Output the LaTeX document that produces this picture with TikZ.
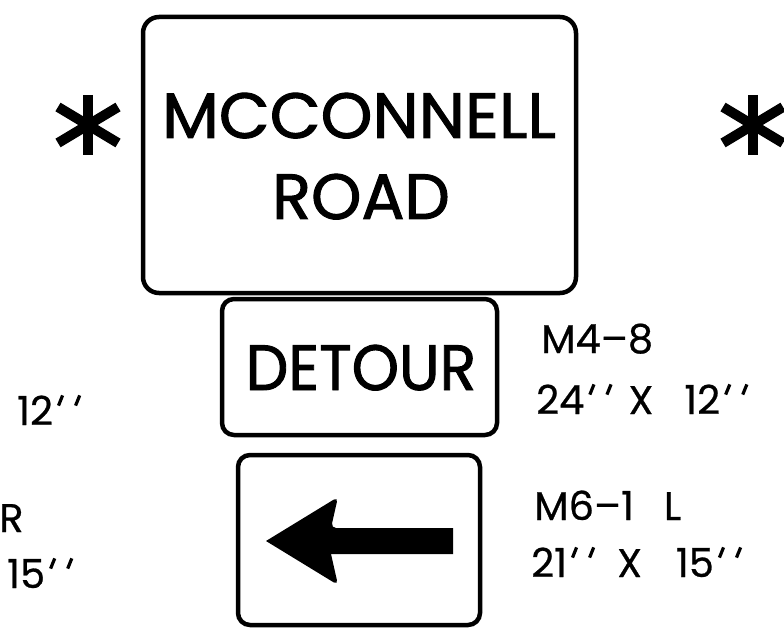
\documentclass[tikz,border=0pt]{standalone}
\usepackage{fontspec}
\usetikzlibrary{calc}
\setmainfont{Poppins}
\newfontfamily\signf{Poppins}[FakeBold=1.5]
\newfontfamily\labf{Poppins}[FakeBold=0.6]
\newcommand{\onepr}{\raisebox{20pt}{\rotatebox{-22}{\rule{3.2pt}{11pt}}}}
\newcommand{\dpr}{\kern4pt\onepr\kern10pt\onepr}
\tikzset{
  signbox/.style={draw, line width=4.5pt, rounded corners=16pt, inner sep=0pt},
  signtext/.style={font=\signf\fontsize{64}{64}\selectfont, inner sep=0pt, anchor=base},
  label/.style={font=\labf\fontsize{40}{40}\selectfont, inner sep=0pt, anchor=base west},
  star/.style={line width=10pt}
}
\begin{document}
\begin{tikzpicture}[x=1pt,y=-1pt]
\useasboundingbox (0,0) rectangle (784,636);
% main sign
\node[signbox, minimum width=433pt, minimum height=276pt] (main) at (359.5,155) {};
\node[signtext, xscale=1.03] (mc) at (359,138) {MCCONNELL};
\node[signtext] (road) at (361,219) {ROAD};
% detour
\node[signbox, rounded corners=12pt, minimum width=275pt, minimum height=136pt] (det) at (359.5,367) {};
\node[signtext, xscale=0.94] (dettext) at (361,390) {DETOUR};
% arrow sign
\node[signbox, rounded corners=12pt, minimum width=242pt, minimum height=170pt] (arr) at (359,540) {};
\fill (266,541) [rounded corners=5pt] -- (338,497) -- (331,528) [sharp corners] -- (453,528) -- (453,554) -- (331,554) [rounded corners=5pt] -- (338,585) [sharp corners] -- cycle;
% asterisks
\foreach \cx/\nm in {88/ls, 753/rs}{
  \coordinate (\nm) at (\cx,125);
  \draw[star] ($(\nm)+(0,-30)$) -- ($(\nm)+(0,30)$);
  \draw[star] ($(\nm)+(-30,-18)$) -- ($(\nm)+(30,18)$);
  \draw[star] ($(\nm)+(-30,18)$) -- ($(\nm)+(30,-18)$);
}
% right labels
\node[label] (l1) at (541,353) {M4–8};
\node[label] (l2) at (536,414) {24\dpr\hspace{16pt}X\hspace{31pt}12\dpr};
\node[label] (l3) at (534,520) {M6–1\hspace{30pt}L};
\node[label] (l4) at (531,577) {21\dpr\hspace{22pt}X\hspace{34pt}15\dpr};
% left labels
\node[label] (k1) at (17,425) {12\dpr};
\node[label] (k2) at (-1,532) {R};
\node[label] (k3) at (7,588) {15\dpr};
\end{tikzpicture}
\end{document}
